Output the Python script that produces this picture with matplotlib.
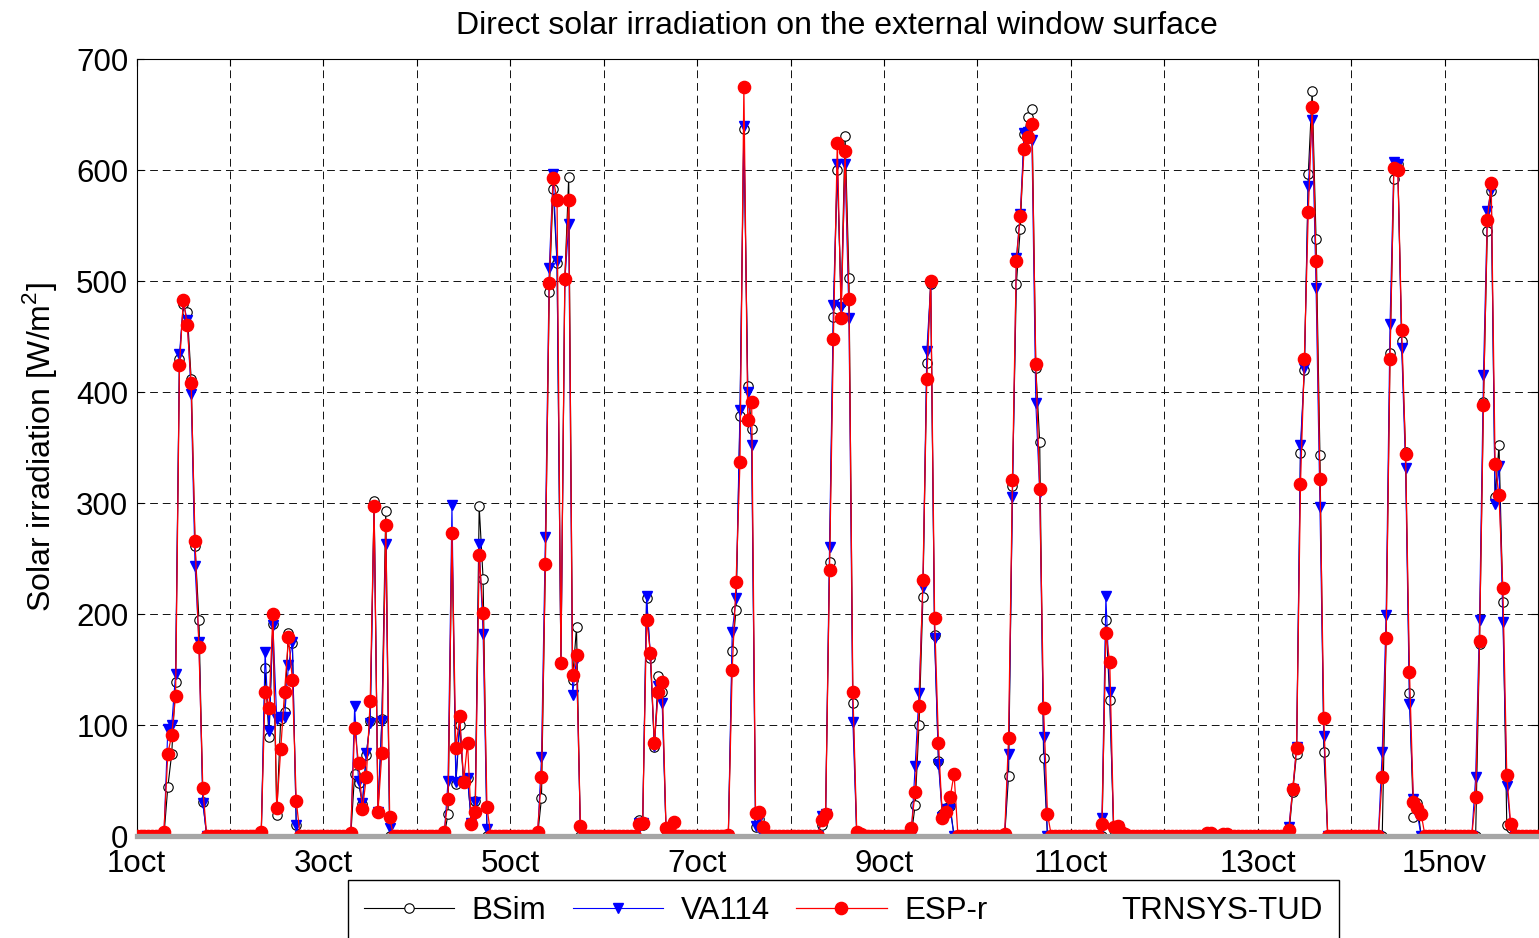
import numpy as np
import matplotlib
matplotlib.use('Agg')
import matplotlib.pyplot as plt
from matplotlib.lines import Line2D

plt.rcParams['font.family'] = ['Liberation Sans', 'DejaVu Sans']
plt.rcParams['mathtext.fontset'] = 'custom'
plt.rcParams['mathtext.rm'] = 'Liberation Sans'

# hourly samples, 1 oct 00:00 .. 16 oct 00:00
n_hours = 361

# {first hour: consecutive hourly values}, every other hour is 0
bsim = {
    7: [0, 44, 74, 139, 430, 479, 472, 412, 261, 195, 31],
    32: [0, 151, 89, 191, 19, 105, 112, 183, 174, 10],
    55: [0, 56, 48, 29, 73, 104, 302, 22, 105, 293, 0],
    79: [0, 20, 272, 47, 100, 48, 52, 12, 32, 297, 232, 0],
    103: [0, 34, 245, 490, 583, 516, 155, 502, 594, 141, 188, 0],
    129: [14, 10, 214, 160, 80, 144, 130, 5, 0, 0],
    152: [0, 167, 204, 378, 637, 405, 367, 8, 15, 0],
    176: [10, 20, 247, 468, 600, 480, 631, 503, 120, 0, 0],
    199: [0, 28, 100, 215, 426, 497, 181, 68, 20, 25, 27, 0],
    223: [0, 54, 315, 497, 547, 632, 648, 655, 422, 355, 70, 0],
    248: [0, 195, 123, 5, 8, 3, 0],
    296: [0, 40, 74, 345, 420, 596, 671, 538, 343, 76],
    320: [0, 179, 435, 592, 605, 446, 346, 129, 17, 30, 0],
    344: [0, 173, 391, 545, 581, 305, 352, 211, 10, 7],
}
va114 = {
    7: [0, 96, 100, 146, 434, 480, 465, 398, 243, 175, 30],
    32: [0, 166, 95, 190, 105, 107, 107, 154, 175, 10],
    55: [0, 117, 50, 30, 75, 102, 296, 22, 104, 263, 7],
    79: [0, 50, 298, 49, 106, 50, 52, 12, 31, 263, 182, 6],
    103: [0, 71, 269, 512, 596, 518, 155, 500, 551, 127, 160, 5],
    129: [12, 12, 216, 162, 81, 135, 120, 5, 0, 0],
    152: [0, 184, 214, 384, 640, 400, 352, 9, 15, 0],
    176: [18, 20, 260, 478, 605, 477, 605, 467, 103, 0, 0],
    199: [0, 63, 129, 224, 437, 497, 178, 65, 17, 24, 24, 0],
    223: [0, 74, 305, 521, 560, 633, 634, 627, 390, 310, 89, 0],
    248: [16, 216, 130, 5, 8, 2, 0],
    296: [8, 42, 80, 352, 422, 586, 645, 494, 296, 90],
    320: [76, 199, 461, 607, 605, 440, 332, 119, 33, 20, 0],
    344: [53, 195, 415, 563, 582, 299, 333, 193, 45, 9],
}
espr = {
    7: [4, 74, 91, 126, 424, 483, 460, 408, 266, 170, 43],
    32: [4, 130, 115, 200, 25, 78, 130, 179, 141, 32],
    55: [3, 97, 66, 24, 53, 122, 297, 22, 75, 280, 17],
    79: [4, 33, 273, 79, 108, 49, 84, 11, 22, 253, 201, 26],
    103: [4, 53, 245, 498, 593, 573, 156, 502, 573, 145, 163, 9],
    129: [11, 12, 195, 165, 84, 130, 139, 7, 3, 13],
    152: [1, 150, 229, 337, 675, 375, 391, 21, 22, 8],
    176: [14, 20, 240, 448, 624, 467, 617, 484, 130, 4, 2],
    199: [7, 40, 117, 231, 412, 500, 196, 84, 16, 22, 35, 56],
    223: [2, 88, 321, 518, 559, 619, 630, 641, 425, 313, 115, 20],
    248: [11, 183, 157, 8, 9, 4, 2],
    275: [3, 3, 0, 0, 2, 2],
    296: [5, 42, 79, 317, 430, 562, 657, 518, 322, 106],
    320: [53, 178, 430, 602, 600, 456, 344, 148, 31, 25, 20],
    344: [35, 176, 388, 555, 588, 335, 307, 223, 55, 11],
}
# TRNSYS-TUD reads 0 over the whole period
trnsys = np.zeros(n_hours)

tick_labels = ['1oct', '', '3oct', '', '5oct', '', '7oct', '', '9oct', '',
               '11oct', '', '13oct', '', '15nov', '']


def expand(segments):
    y = np.zeros(n_hours)
    for start, vals in segments.items():
        y[start:start + len(vals)] = vals
    return y


t = np.arange(n_hours) / 24.0

fig = plt.figure(figsize=(15.39, 9.38), dpi=100)
ax = fig.add_axes([0.0888, 0.1087, 0.9105, 0.8284])

l1, = ax.plot(t, expand(bsim), color='black', lw=0.8, marker='o', ms=6.8,
              mfc='white', mec='black', mew=0.8, zorder=3)
l2, = ax.plot(t, expand(va114), color='blue', lw=0.8, marker='v', ms=7.5,
              mfc='blue', mec='blue', zorder=4)
l3, = ax.plot(t, expand(espr), color='red', lw=0.9, marker='o', ms=8.8,
              mfc='red', mec='red', zorder=5)
ax.plot(t, trnsys, color='#a6a6a6', lw=3.8, zorder=6, clip_on=False)

ax.set_xlim(0, 15)
ax.set_ylim(0, 700)
ax.set_xticks(np.arange(16))
ax.set_xticklabels(tick_labels)
ax.set_yticks(np.arange(0, 701, 100))
ax.tick_params(direction='in', length=5, width=0.8, top=True, right=True,
               labelsize=22.5, colors='black')
ax.tick_params(axis='x', pad=9.5)
ax.tick_params(axis='y', pad=6)
ax.grid(True, color='#111111', lw=0.7, linestyle=(0, (8, 5)))
for s in ax.spines.values():
    s.set_linewidth(0.8)

ax.set_ylabel('Solar irradiation [W/m$^2$]', fontsize=23, labelpad=12)
ax.set_title('Direct solar irradiation on the external window surface',
             fontsize=23, pad=18)

blank = Line2D([], [], color='none')
fig.legend([l1, l2, l3, blank], ['BSim', 'VA114', 'ESP-r', 'TRNSYS-TUD'],
           loc='upper left', bbox_to_anchor=(0.2261, 1 - 880 / 938), ncol=4,
           fontsize=22.5, frameon=True, fancybox=False, edgecolor='black',
           framealpha=1, borderpad=0.5, handlelength=2.9, handletextpad=0.55,
           columnspacing=0.85, borderaxespad=0)

fig.savefig('out.png', dpi=100)
